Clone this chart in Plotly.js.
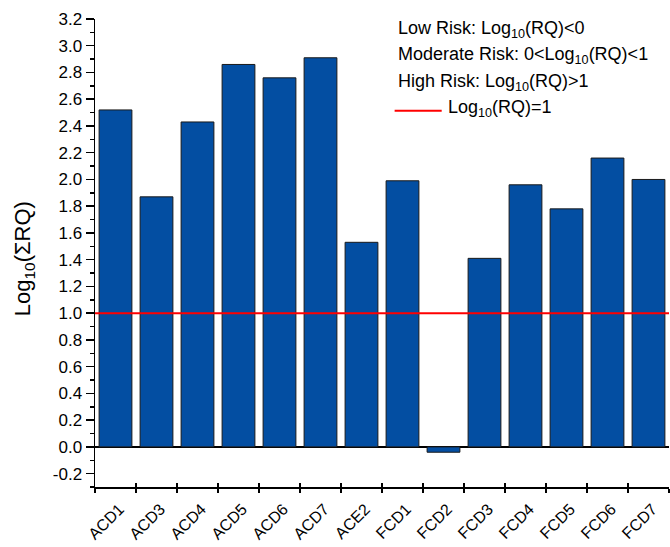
<!DOCTYPE html>
<html>
<head>
<meta charset="utf-8">
<script src="https://cdn.plot.ly/plotly-3.0.1.min.js"></script>
<style>html,body{margin:0;padding:0;background:#fff;}#chart{width:670px;height:547px;}</style>
</head>
<body>
<div id="chart"></div>
<script>
const categories = ["ACD1","ACD3","ACD4","ACD5","ACD6","ACD7","ACE2","FCD1","FCD2","FCD3","FCD4","FCD5","FCD6","FCD7"];
const logSumRQ = [2.52, 1.87, 2.43, 2.86, 2.76, 2.91, 1.53, 1.99, -0.04, 1.41, 1.96, 1.78, 2.16, 2.00];
const thresholdValue = 1;
const yTickVals = [-0.2,0.0,0.2,0.4,0.6,0.8,1.0,1.2,1.4,1.6,1.8,2.0,2.2,2.4,2.6,2.8,3.0,3.2];
const legendLines = [
  "Low Risk: Log<sub>10</sub>(RQ)&lt;0",
  "Moderate Risk: 0&lt;Log<sub>10</sub>(RQ)&lt;1",
  "High Risk: Log<sub>10</sub>(RQ)&gt;1"
];
const thresholdLabel = "Log<sub>10</sub>(RQ)=1";
const yTitle = "Log<sub>10</sub>(ΣRQ)";

const FONT = "Arial, 'Liberation Sans', sans-serif";
const rowY = [0.9765, 0.921, 0.865, 0.808];

const traces = [
  {
    type: 'bar',
    x: categories,
    y: logSumRQ,
    marker: {color: '#034ea2', line: {color: '#1a1a1a', width: 1}},
    width: 0.8,
    showlegend: false,
    hoverinfo: 'x+y'
  },
  {
    type: 'scatter',
    mode: 'markers',
    x: categories,
    y: categories.map(() => null),
    xaxis: 'x2',
    yaxis: 'y',
    showlegend: false,
    hoverinfo: 'skip'
  }
];

const annotations = legendLines.map((t, i) => ({
  xref: 'paper', yref: 'paper',
  x: 0.524, y: rowY[i],
  xanchor: 'left', yanchor: 'middle',
  text: t, showarrow: false,
  font: {family: FONT, size: 18, color: '#000'}
}));
annotations.push({
  xref: 'paper', yref: 'paper',
  x: 0.612, y: rowY[3],
  xanchor: 'left', yanchor: 'middle',
  text: thresholdLabel, showarrow: false,
  font: {family: FONT, size: 18, color: '#000'}
});
annotations.push({
  xref: 'paper', yref: 'paper',
  x: -0.1235, y: 0.487,
  xanchor: 'center', yanchor: 'middle',
  textangle: -90,
  text: yTitle, showarrow: false,
  font: {family: FONT, size: 22, color: '#000'}
});

const layout = {
  width: 670, height: 547,
  margin: {l: 95, r: 1, t: 19, b: 60, pad: 0},
  paper_bgcolor: '#fff', plot_bgcolor: '#fff',
  font: {family: FONT, size: 16, color: '#000'},
  bargap: 0.2,
  xaxis: {
    type: 'category',
    categoryarray: categories,
    range: [-0.5, 13.5],
    showline: true, linecolor: '#000', linewidth: 1.5,
    ticks: 'outside', ticklen: 4, tickwidth: 1.5, tickcolor: '#000',
    tickson: 'boundaries',
    tickangle: -45,
    ticklabelstandoff: 5,
    ticklabelshift: 4,
    tickfont: {family: FONT, size: 16, color: '#000'},
    showgrid: false, zeroline: false,
    fixedrange: true
  },
  xaxis2: {
    type: 'category',
    categoryarray: categories,
    range: [-0.5, 13.5],
    overlaying: 'x',
    anchor: 'y',
    side: 'bottom',
    showline: false,
    ticks: 'inside', ticklen: 4, tickwidth: 1.5, tickcolor: '#000',
    tickson: 'boundaries',
    showticklabels: false,
    showgrid: false, zeroline: false
  },
  yaxis: {
    range: [-0.3, 3.2],
    tickvals: yTickVals,
    ticktext: yTickVals.map(v => v.toFixed(1)),
    showline: true, linecolor: '#000', linewidth: 1.5,
    ticks: 'outside', ticklen: 8, tickwidth: 1.5, tickcolor: '#000',
    minor: {dtick: 0.1, tick0: 0, ticks: 'outside', ticklen: 4, tickwidth: 1.5, tickcolor: '#000', showgrid: false},
    tickfont: {family: FONT, size: 17, color: '#000'},
    showgrid: false,
    zeroline: true, zerolinecolor: '#000', zerolinewidth: 1.5,
    automargin: false
  },
  shapes: [
    {type: 'line', xref: 'paper', yref: 'y', x0: 0, x1: 1, y0: thresholdValue, y1: thresholdValue,
     line: {color: '#ff0000', width: 2}, layer: 'above'},
    {type: 'line', xref: 'paper', yref: 'paper', x0: 0.522, x1: 0.604,
     y0: rowY[3] - 0.004, y1: rowY[3] - 0.004,
     line: {color: '#ff0000', width: 2}}
  ],
  annotations: annotations
};

Plotly.newPlot('chart', traces, layout, {staticPlot: true, displayModeBar: false});
</script>
</body>
</html>
